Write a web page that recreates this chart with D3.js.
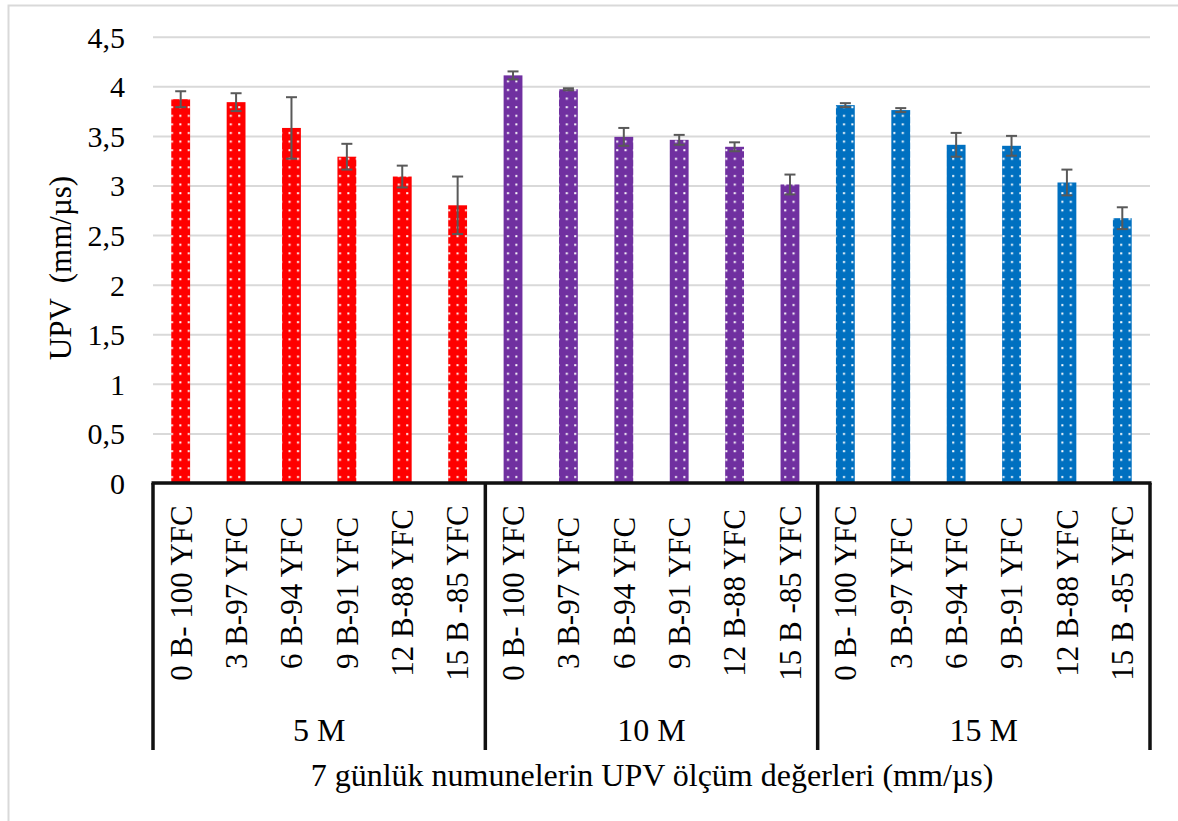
<!DOCTYPE html>
<html>
<head>
<meta charset="utf-8">
<script src="https://cdn.jsdelivr.net/npm/d3@7"></script>
<style>
  body { margin: 0; background: #fff; }
  svg text { font-family: "Liberation Serif", "Times New Roman", serif; fill: #000; white-space: pre; }
</style>
</head>
<body>
<div id="chart"></div>
<script>
// Groups (mortar type) and mixes per group
const groups = ["5 M", "10 M", "15 M"];
const mixes = ["0 B- 100 YFC", "3 B-97 YFC", "6 B-94 YFC", "9 B-91 YFC", "12 B-88 YFC", "15 B -85 YFC"];

// UPV values and error bars per group
const upv5 = [3.87, 3.84, 3.58, 3.29, 3.09, 2.80];
const err5 = [0.08, 0.09, 0.31, 0.13, 0.11, 0.29];
const upv10 = [4.11, 3.97, 3.49, 3.46, 3.39, 3.01];
const err10 = [0.04, 0.01, 0.09, 0.05, 0.045, 0.10];
const upv15 = [3.81, 3.76, 3.41, 3.40, 3.03, 2.67];
const err15 = [0.02, 0.02, 0.12, 0.10, 0.13, 0.11];

const groupColors = ["#FF0000", "#7030A0", "#0070C0"];
const yTicks = [0, 0.5, 1, 1.5, 2, 2.5, 3, 3.5, 4, 4.5];

const yTitle = "UPV  (mm/µs)";
const xTitle = "7 günlük numunelerin UPV ölçüm değerleri (mm/µs)";

// Build flat table
const values = [upv5, upv10, upv15];
const errors = [err5, err10, err15];
const rows = [];
groups.forEach((g, gi) => {
    mixes.forEach((m, mi) => {
        rows.push({ key: g + "|" + m, group: g, gi: gi, mix: m, value: values[gi][mi], err: errors[gi][mi] });
    });
});

const width = 1178;
const height = 821;
const plotLeft = 153, plotRight = 1150, plotTop = 36.7, plotBottom = 483;

const svg = d3.select("#chart").append("svg")
    .attr("width", width)
    .attr("height", height);

// Outer chart frame
svg.append("rect")
    .attr("x", 8.5).attr("y", 5.5)
    .attr("width", width + 10).attr("height", height + 10)
    .attr("fill", "none")
    .attr("stroke", "#d9d9d9")
    .attr("stroke-width", 2);

// Dotted fill patterns
const defs = svg.append("defs");
groupColors.forEach((c, i) => {
    const p = defs.append("pattern")
        .attr("id", "dots" + i)
        .attr("patternUnits", "userSpaceOnUse")
        .attr("width", 8.4).attr("height", 8.6);
    p.append("rect").attr("width", 8.4).attr("height", 8.6).attr("fill", c);
    p.append("rect").attr("x", 3).attr("y", 3).attr("width", 2).attr("height", 2).attr("fill", "#fff");
});

const x = d3.scaleBand()
    .domain(rows.map(d => d.key))
    .range([plotLeft, plotRight])
    .paddingInner(0.66)
    .paddingOuter(0.33);

const y = d3.scaleLinear()
    .domain([0, 4.5])
    .range([plotBottom, plotTop]);

// Gridlines
svg.append("g")
    .attr("transform", "translate(" + plotLeft + ",0)")
    .call(d3.axisLeft(y).tickValues(yTicks).tickSize(-(plotRight - plotLeft)).tickFormat(""))
    .call(g => g.select(".domain").remove())
    .call(g => g.selectAll("line").attr("stroke", "#d9d9d9").attr("stroke-width", 2));

// Y tick labels
svg.append("g")
    .attr("transform", "translate(" + plotLeft + ",0)")
    .call(d3.axisLeft(y).tickValues(yTicks).tickSize(0).tickPadding(28)
        .tickFormat(d => String(d).replace(".", ",")))
    .call(g => g.select(".domain").remove())
    .call(g => g.selectAll("text").attr("font-size", 30).attr("dy", "0.35em").attr("fill", "#000")
        .style("font-family", "'Liberation Serif', 'Times New Roman', serif"));

// Bars
svg.selectAll(".bar")
    .data(rows)
    .enter().append("rect")
    .attr("class", "bar")
    .attr("x", d => x(d.key))
    .attr("y", d => y(d.value))
    .attr("width", x.bandwidth())
    .attr("height", d => y(0) - y(d.value))
    .attr("fill", d => "url(#dots" + d.gi + ")");

// Error bars
const eb = svg.selectAll(".err")
    .data(rows)
    .enter().append("g")
    .attr("class", "err")
    .attr("stroke", "#595959")
    .attr("stroke-width", 2);
const cx = d => x(d.key) + x.bandwidth() / 2;
eb.append("line")
    .attr("x1", cx).attr("x2", cx)
    .attr("y1", d => y(d.value + d.err)).attr("y2", d => y(d.value - d.err));
eb.append("line")
    .attr("x1", d => cx(d) - 5.5).attr("x2", d => cx(d) + 5.5)
    .attr("y1", d => y(d.value + d.err)).attr("y2", d => y(d.value + d.err));
eb.append("line")
    .attr("x1", d => cx(d) - 5.5).attr("x2", d => cx(d) + 5.5)
    .attr("y1", d => y(d.value - d.err)).attr("y2", d => y(d.value - d.err));

// Category axis: baseline and group separators
const step = x.step();
const tableBottom = 750;
svg.append("line")
    .attr("x1", plotLeft - 1.5).attr("x2", plotRight + 1.5)
    .attr("y1", plotBottom).attr("y2", plotBottom)
    .attr("stroke", "#111").attr("stroke-width", 3.5);

const seps = d3.range(groups.length + 1).map(i => plotLeft + i * mixes.length * step);
svg.selectAll(".sep")
    .data(seps)
    .enter().append("line")
    .attr("class", "sep")
    .attr("x1", d => d).attr("x2", d => d)
    .attr("y1", plotBottom).attr("y2", tableBottom)
    .attr("stroke", "#111").attr("stroke-width", 3.5);

// Mix labels (rotated)
svg.selectAll(".mix")
    .data(rows)
    .enter().append("text")
    .attr("class", "mix")
    .attr("transform", d => "translate(" + cx(d) + ",593) rotate(-90)")
    .attr("text-anchor", "middle")
    .attr("dy", "0.35em")
    .attr("font-size", 31)
    .text(d => d.mix);

// Group labels
svg.selectAll(".grp")
    .data(groups)
    .enter().append("text")
    .attr("class", "grp")
    .attr("x", (d, i) => (seps[i] + seps[i + 1]) / 2)
    .attr("y", 741)
    .attr("text-anchor", "middle")
    .attr("font-size", 32)
    .text(d => d);

// Axis titles
svg.append("text")
    .attr("x", 652).attr("y", 786)
    .attr("text-anchor", "middle")
    .attr("font-size", 32)
    .text(xTitle);

svg.append("text")
    .attr("transform", "translate(71,268) rotate(-90)")
    .attr("text-anchor", "middle")
    .attr("font-size", 31)
    .text(yTitle);
</script>
</body>
</html>
